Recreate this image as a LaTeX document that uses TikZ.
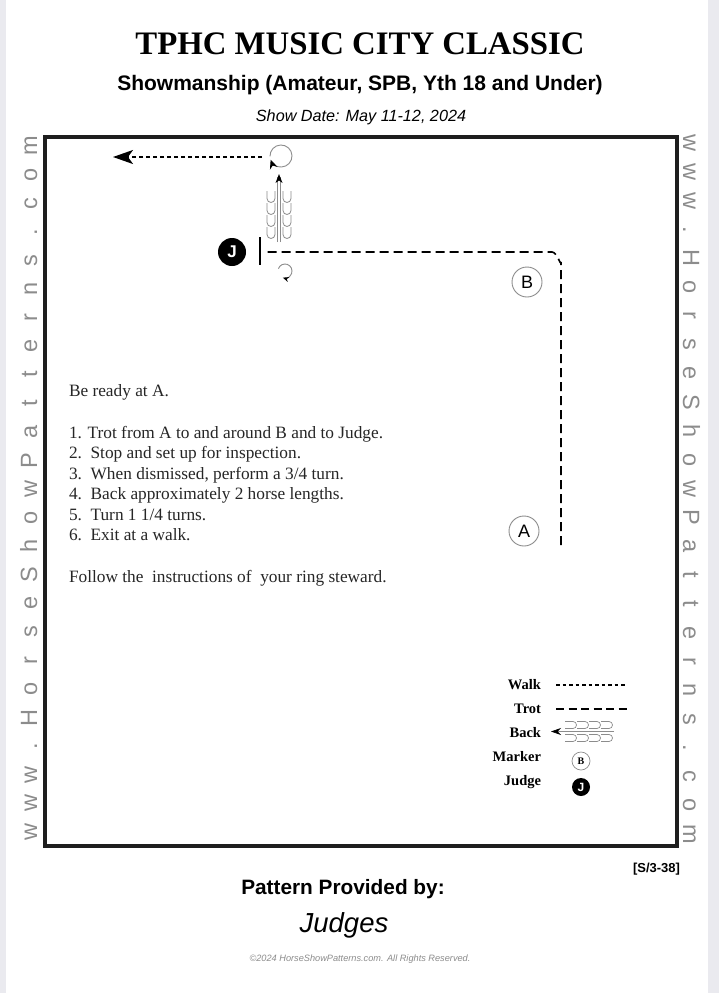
\documentclass[tikz,border=0pt]{standalone}
\usepackage{fontspec}
\setmainfont{Liberation Serif}
\setsansfont{Liberation Sans}
\usetikzlibrary{arrows.meta}
\definecolor{pagegray}{RGB}{234,234,239}
\definecolor{wmgray}{RGB}{140,140,140}
\definecolor{pathgray}{RGB}{140,140,140}
\definecolor{framecol}{RGB}{30,30,30}
\begin{document}
\begin{tikzpicture}[x=1pt,y=-1pt,
  txt/.style={inner sep=0pt,outer sep=0pt},
  instr/.style={txt,anchor=base west,font=\fontsize{17.3}{19}\selectfont,text=black!85},
  legtxt/.style={txt,anchor=base east,font=\fontsize{14.5}{15}\bfseries\selectfont},
  wm/.style={txt,anchor=base,font=\sffamily\fontsize{23.5}{24}\selectfont,text=wmgray},
  trot/.style={line width=1.6pt,dash pattern=on 9pt off 5pt},
  walk/.style={line width=1.5pt,dash pattern=on 4pt off 3pt},
  marker/.style={circle,draw=pathgray,line width=0.9pt,minimum size=30pt,inner sep=0pt,font=\sffamily\fontsize{18}{18}\selectfont},
  judge/.style={circle,fill=black,minimum size=28pt,inner sep=0pt,text=white,font=\sffamily\bfseries\fontsize{17}{17}\selectfont},
  uback/.style={draw=pathgray,line width=0.8pt},
  turn/.style={draw=pathgray,line width=0.9pt}
]
% page
\fill[pagegray] (0,0) rectangle (719,993);
\fill[white] (6,0) rectangle (708,993);
\useasboundingbox (0,0) rectangle (719,993);

% titles
\node[txt,anchor=base,font=\bfseries\fontsize{32.8}{34}\selectfont] (title) at (360,54) {TPHC MUSIC CITY CLASSIC};
\node[txt,anchor=base,font=\sffamily\bfseries\fontsize{21}{22}\selectfont] (sub) at (360,90) {Showmanship (Amateur, SPB, Yth 18 and Under)};
\node[txt,anchor=base,font=\sffamily\itshape\fontsize{16.2}{17}\selectfont] (date) at (361,121) {Show Date: May 11-12, 2024};

% frame
\draw[framecol,line width=4pt] (45,137) rectangle (677,846);

% watermarks
\foreach \c [count=\i from 0] in {w,w,w,.,H,o,r,s,e,S,h,o,w,P,a,t,t,e,r,n,s,.,c,o,m} {
  \node[wm,rotate=90] (wl\i) at (37,{832-\i*28.58}) {\c};
  \node[wm,rotate=-90] (wr\i) at (683,{143+\i*28.8}) {\c};
}

% markers and judge
\node[judge] (J) at (232,252) {J};
\node[marker] (B) at (527,282) {B};
\node[marker] (A) at (524,531) {A};

% judge bar
\coordinate (bar1) at (260,237);
\coordinate (bar2) at (260,265);
\draw[line width=1.6pt] (bar1) -- (bar2);

% trot path A -> B -> Judge
\coordinate (tA) at (561,545);
\coordinate (tC) at (561,262);
\coordinate (tC2) at (552,252);
\coordinate (tJ) at (264,252);
\draw[trot] (tA) -- (tC) to[out=-90,in=0] (tC2) -- (tJ);

% 3/4 turn
\coordinate (t1c) at (285,271);
\draw[turn,-{Stealth[length=6pt,width=5pt,black]}] (t1c) ++(200:7) arc[start angle=200,end angle=468,radius=7];

% back
\foreach \yy in {197,209,221,233} {
  \foreach \xx in {271,287} {
    \draw[uback] (\xx-4,\yy-6) -- (\xx-4,\yy+1.5) arc[start angle=180,end angle=0,radius=4] -- (\xx+4,\yy-6);
  }
}
\coordinate (bk1) at (279,242);
\coordinate (bk2) at (279,177);
\draw[draw=pathgray,line width=0.7pt] ([xshift=-1.2pt]bk1) -- ([xshift=-1.2pt]bk2);
\draw[draw=pathgray,line width=0.7pt] ([xshift=1.2pt]bk1) -- ([xshift=1.2pt]bk2);
\fill[black] (bk2) ++(0,-3) -- ++(-3.5,9) -- ++(3.5,-2.5) -- ++(3.5,2.5) -- cycle;

% 1 1/4 turn
\coordinate (t2c) at (281,156);
\draw[turn,-{Stealth[length=9pt,width=8pt,black]}] (t2c) ++(178:11) arc[start angle=178,end angle=520,radius=11];

% walk out
\coordinate (w1) at (262,157);
\coordinate (w2) at (113,157);
\draw[walk,-{Stealth[length=20pt,width=14pt,inset=5pt]}] (w1) -- (w2);

% instructions
\node[instr] (i0) at (69,396) {Be ready at A.};
\node[instr] (i1) at (69,438) {1. Trot from A to and around B and to Judge.};
\node[instr] (i2) at (69,458) {2.\ \ Stop and set up for inspection.};
\node[instr] (i3) at (69,479) {3.\ \ When dismissed, perform a 3/4 turn.};
\node[instr] (i4) at (69,499) {4.\ \ Back approximately 2 horse lengths.};
\node[instr] (i5) at (69,520) {5.\ \ Turn 1 1/4 turns.};
\node[instr] (i6) at (69,540) {6.\ \ Exit at a walk.};
\node[instr] (i7) at (69,582) {Follow the\ \ instructions of\ \ your ring steward.};

% legend
\node[legtxt] (lw) at (541,689) {Walk};
\node[legtxt] (lt) at (541,713) {Trot};
\node[legtxt] (lb) at (541,737) {Back};
\node[legtxt] (lm) at (541,761) {Marker};
\node[legtxt] (lj) at (541,785) {Judge};
\coordinate (lw1) at (556,685); \coordinate (lw2) at (627,685);
\draw[line width=1.3pt,dash pattern=on 3.5pt off 3pt] (lw1) -- (lw2);
\coordinate (lt1) at (556,709); \coordinate (lt2) at (627,709);
\draw[line width=1.3pt,dash pattern=on 8pt off 4.5pt] (lt1) -- (lt2);
\foreach \xx in {565,577,589,601} {
  \foreach \yy in {725,738} {
    \draw[uback,line width=0.7pt] (\xx,\yy-3.5) -- (\xx+8,\yy-3.5) arc[start angle=270,end angle=450,radius=3.5] -- (\xx,\yy+3.5);
  }
}
\coordinate (lb1) at (614,731.5); \coordinate (lb2) at (551,731.5);
\draw[draw=pathgray,line width=0.7pt,-{Stealth[length=10pt,width=7pt,black]}] (lb1) -- (lb2);
\node[circle,draw=pathgray,line width=0.7pt,minimum size=18pt,inner sep=0pt,font=\bfseries\fontsize{10}{10}\selectfont] (lmB) at (581,761) {B};
\node[circle,fill=black,minimum size=18pt,inner sep=0pt,text=white,font=\sffamily\bfseries\fontsize{12}{12}\selectfont] (ljJ) at (581,787) {J};

% footer
\node[txt,anchor=base east,font=\sffamily\bfseries\fontsize{13}{14}\selectfont] (code) at (680,872) {[S/3-38]};
\node[txt,anchor=base,font=\sffamily\bfseries\fontsize{20.8}{22}\selectfont] (prov) at (343,894) {Pattern Provided by:};
\node[txt,anchor=base,font=\sffamily\itshape\fontsize{27.5}{28}\selectfont] (judges) at (344,932) {Judges};
\node[txt,anchor=base,font=\sffamily\itshape\fontsize{9.2}{10}\selectfont,text=black!45] (copy) at (360,961) {©2024 HorseShowPatterns.com. All Rights Reserved.};
\end{tikzpicture}
\end{document}
